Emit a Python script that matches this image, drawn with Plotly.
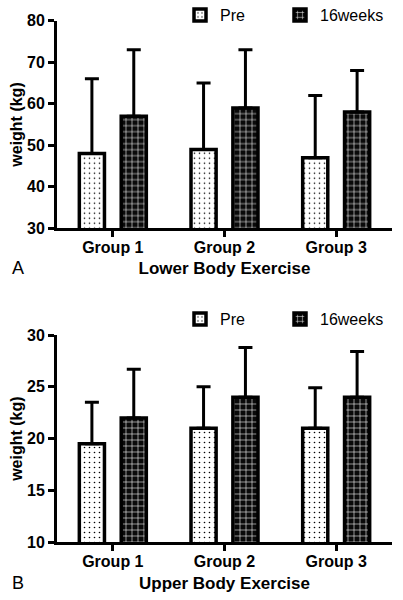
import plotly.graph_objects as go

groups = ["Group 1", "Group 2", "Group 3"]
series_names = ["Pre", "16weeks"]

# Panel A: Lower Body Exercise (kg)
lower_pre = [48, 49, 47]
lower_pre_upper = [66, 65, 62]
lower_16w = [57, 59, 58]
lower_16w_upper = [73, 73, 68]

# Panel B: Upper Body Exercise (kg)
upper_pre = [19.5, 21, 21]
upper_pre_upper = [23.5, 25, 24.9]
upper_16w = [22, 24, 24]
upper_16w_upper = [26.7, 28.8, 28.4]

lower_ticks = [30, 40, 50, 60, 70, 80]
upper_ticks = [10, 15, 20, 25, 30]

FONT = "Arial, Liberation Sans, sans-serif"
W, H = 403, 600

patterns = {
    "Pre": dict(shape=".", bgcolor="white", fgcolor="black", size=5, solidity=0.08, fillmode="replace"),
    "16weeks": dict(shape="+", bgcolor="#0a0a0a", fgcolor="white", size=6, solidity=0.18, fillmode="replace"),
}
offsets = {"Pre": -0.30, "16weeks": 0.075}
BW = 0.225

fig = go.Figure()

def add_panel(vals, uppers, xa, ya, legends):
    for name, v, up, lg in zip(series_names, vals, uppers, legends):
        err = [u - y for u, y in zip(up, v)]
        fig.add_trace(go.Bar(
            x=groups, y=v, name=name, xaxis=xa, yaxis=ya, legend=lg,
            width=BW, offset=offsets[name],
            marker=dict(color="white", line=dict(color="black", width=3.5), pattern=patterns[name]),
            error_y=dict(type="data", symmetric=False, array=err, arrayminus=[0]*len(err),
                         color="black", thickness=3, width=7),
            showlegend=True,
        ))

add_panel([lower_pre, lower_16w], [lower_pre_upper, lower_16w_upper], "x", "y", ["legend", "legend2"])
add_panel([upper_pre, upper_16w], [upper_pre_upper, upper_16w_upper], "x2", "y2", ["legend3", "legend4"])

x_dom = [57 / W, 392 / W]
top_dom = [1 - 228.3 / H, 1 - 20.7 / H]
bot_dom = [1 - 542.3 / H, 1 - 335 / H]

tick_font = dict(family=FONT, size=16, color="black", weight="bold")
axis_common = dict(showline=True, linecolor="black", linewidth=3, ticks="outside",
                   tickwidth=3, ticklen=6, tickcolor="black", showgrid=False, zeroline=False,
                   automargin=False, tickfont=tick_font)
xtitle_font = dict(family=FONT, size=17, color="black", weight="bold")
ytitle_font = dict(family=FONT, size=16, color="black", weight="bold")
legend_common = dict(orientation="h", xanchor="left", yanchor="middle", bgcolor="rgba(0,0,0,0)",
                     font=dict(family=FONT, size=16, color="black"))

fig.update_layout(
    width=W, height=H, margin=dict(l=0, r=0, t=0, b=0, autoexpand=False),
    paper_bgcolor="white", plot_bgcolor="white",
    barmode="overlay", showlegend=True,
    xaxis=dict(domain=x_dom, anchor="y", range=[-0.5, 2.5], ticklabelstandoff=-4,
               title=dict(text="Lower Body Exercise", standoff=8, font=xtitle_font), **axis_common),
    yaxis=dict(domain=top_dom, anchor="x", range=[30, 80], tickvals=lower_ticks,
               title=dict(text="weight (kg)", standoff=1, font=ytitle_font), **axis_common),
    xaxis2=dict(domain=x_dom, anchor="y2", range=[-0.5, 2.5], ticklabelstandoff=-4,
                title=dict(text="Upper Body Exercise", standoff=9, font=xtitle_font), **axis_common),
    yaxis2=dict(domain=bot_dom, anchor="x2", range=[10, 30], tickvals=upper_ticks,
                title=dict(text="weight (kg)", standoff=1, font=ytitle_font), **axis_common),
    legend=dict(x=180 / W, y=1 - 15 / H, **legend_common),
    legend2=dict(x=280 / W, y=1 - 15 / H, **legend_common),
    legend3=dict(x=180 / W, y=1 - 319 / H, **legend_common),
    legend4=dict(x=280 / W, y=1 - 319 / H, **legend_common),
    annotations=[
        dict(text="A", x=18 / W, y=1 - 268 / H, xref="paper", yref="paper", showarrow=False,
             xanchor="center", yanchor="middle", font=dict(family=FONT, size=18, color="black")),
        dict(text="B", x=18 / W, y=1 - 583 / H, xref="paper", yref="paper", showarrow=False,
             xanchor="center", yanchor="middle", font=dict(family=FONT, size=18, color="black")),
    ],
)

fig.write_html("out.html", config={"displayModeBar": False},
               post_script="document.body.style.margin='0';document.body.style.padding='0';")
